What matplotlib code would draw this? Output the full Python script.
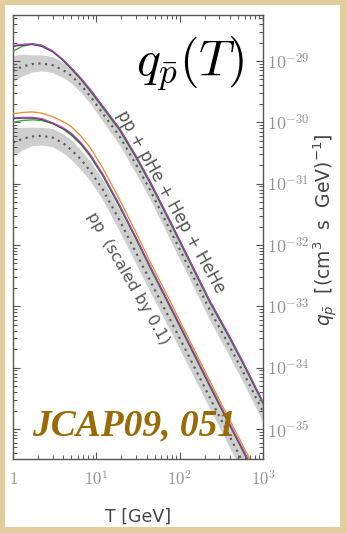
import numpy as np
import matplotlib
matplotlib.use('Agg')
import matplotlib.pyplot as plt
from matplotlib.patches import Rectangle

# kinetic energy grid [GeV]
T = [1, 1.3, 1.7, 2.2, 3, 4, 5, 6.5, 8.4, 12, 19, 30, 44, 77, 133, 232, 400, 577, 1000]

# log10 of source term, pp + pHe + Hep + HeHe
sum_purple = [-28.75, -28.73, -28.72, -28.75, -28.84, -28.98, -29.11, -29.28, -29.46, -29.74, -30.10, -30.55, -30.96, -31.61, -32.26, -32.92, -33.50, -33.91, -34.56]
sum_black = [-28.76, -28.74, -28.73, -28.76, -28.85, -28.99, -29.12, -29.29, -29.47, -29.75, -30.11, -30.56, -30.97, -31.62, -32.27, -32.93, -33.51, -33.92, -34.57]
sum_green = [-28.84, -28.76, -28.72, -28.74, -28.84, -28.99, -29.13, -29.30, -29.49, -29.77, -30.13, -30.58, -30.99, -31.64, -32.29, -32.95, -33.53, -33.94, -34.59]
sum_dotted = [-29.16, -29.09, -29.05, -29.04, -29.07, -29.15, -29.24, -29.39, -29.57, -29.86, -30.23, -30.69, -31.10, -31.76, -32.41, -33.07, -33.66, -34.07, -34.72]
sum_band_hi = [-28.91, -28.89, -28.90, -28.90, -28.93, -29.02, -29.11, -29.26, -29.44, -29.73, -30.09, -30.54, -30.95, -31.60, -32.25, -32.90, -33.49, -33.90, -34.55]
sum_band_lo = [-29.34, -29.24, -29.18, -29.16, -29.19, -29.27, -29.36, -29.51, -29.69, -29.99, -30.37, -30.84, -31.25, -31.92, -32.57, -33.24, -33.83, -34.24, -34.89]

# log10 of source term, pp only (scaled by 0.1)
pp_purple = [-29.93, -29.92, -29.92, -29.94, -30.01, -30.09, -30.18, -30.33, -30.52, -30.85, -31.35, -31.88, -32.34, -32.99, -33.63, -34.29, -34.92, -35.34, -35.98]
pp_black = [-29.94, -29.93, -29.93, -29.95, -30.02, -30.10, -30.19, -30.34, -30.53, -30.86, -31.36, -31.89, -32.35, -33.00, -33.64, -34.30, -34.93, -35.35, -35.99]
pp_green = [-30.00, -29.97, -29.96, -29.97, -30.02, -30.11, -30.21, -30.36, -30.55, -30.88, -31.38, -31.91, -32.37, -33.02, -33.66, -34.32, -34.95, -35.37, -36.01]
pp_orange = [-29.86, -29.84, -29.83, -29.85, -29.91, -29.99, -30.07, -30.22, -30.41, -30.75, -31.26, -31.80, -32.27, -32.92, -33.57, -34.23, -34.86, -35.28, -35.92]
pp_dotted = [-30.33, -30.27, -30.23, -30.22, -30.25, -30.34, -30.45, -30.60, -30.79, -31.10, -31.60, -32.13, -32.58, -33.22, -33.85, -34.50, -35.13, -35.55, -36.18]
pp_band_hi = [-30.08, -30.08, -30.08, -30.08, -30.10, -30.19, -30.29, -30.45, -30.63, -30.94, -31.43, -31.95, -32.40, -33.04, -33.67, -34.32, -34.95, -35.37, -36.00]
pp_band_lo = [-30.55, -30.45, -30.38, -30.37, -30.40, -30.50, -30.61, -30.77, -30.95, -31.27, -31.78, -32.31, -32.76, -33.40, -34.03, -34.68, -35.31, -35.73, -36.36]

xticks = [1, 10, 100, 1000]
xtick_labels = ['$1$', '$10^{1}$', '$10^{2}$', '$10^{3}$']
yticks = [1e-29, 1e-30, 1e-31, 1e-32, 1e-33, 1e-34, 1e-35]
ytick_labels = ['$10^{-29}$', '$10^{-30}$', '$10^{-31}$', '$10^{-32}$', '$10^{-33}$', '$10^{-34}$', '$10^{-35}$']

plt.rcParams['mathtext.fontset'] = 'cm'
plt.rcParams['font.family'] = ['DejaVu Sans']

fig = plt.figure(figsize=(3.47, 5.33), dpi=100)
fig.patch.set_facecolor('#e2cd9e')
# white panel
fig.patches.append(Rectangle((0.014, 0.011), 0.966, 0.98, transform=fig.transFigure,
                             facecolor='white', edgecolor='none', zorder=-5))

ax = fig.add_axes([0.0375, 0.1388, 0.7205, 0.8331])
ax.set_zorder(2)
ax.set_facecolor('white')
ax.set_xscale('log')
ax.set_yscale('log')

def p(v):
    return 10 ** np.array(v)

# bands + dotted central lines
ax.fill_between(T, p(sum_band_lo), p(sum_band_hi), color='#cfcfcf', lw=0, zorder=1)
ax.fill_between(T, p(pp_band_lo), p(pp_band_hi), color='#cfcfcf', lw=0, zorder=1)
ax.plot(T, p(sum_dotted), color='#555555', ls=(0, (1, 2.2)), lw=1.5, zorder=2)
ax.plot(T, p(pp_dotted), color='#555555', ls=(0, (1, 2.2)), lw=1.5, zorder=2)

# model curves
ax.plot(T, p(sum_green), color='#3aa83a', lw=1.0, zorder=3)
ax.plot(T, p(sum_black), color='#333333', lw=1.0, zorder=3)
ax.plot(T, p(sum_purple), color='#a844b8', lw=1.0, zorder=3)
ax.plot(T, p(pp_orange), color='#e8913c', lw=1.0, zorder=3)
ax.plot(T, p(pp_green), color='#3aa83a', lw=1.0, zorder=3)
ax.plot(T, p(pp_black), color='#333333', lw=1.0, zorder=3)
ax.plot(T, p(pp_purple), color='#a844b8', lw=1.0, zorder=3)

ax.set_xlim(1, 1000)
ax.set_ylim(10 ** -35.49, 10 ** -28.25)

# ticks
ax.set_xticks(xticks)
ax.set_xticklabels(xtick_labels)
ax.set_yticks(yticks)
ax.set_yticklabels(ytick_labels)
ax.tick_params(which='both', direction='in', top=True, right=True, colors='#555555',
               labelcolor='#939393', labelsize=12)
ax.tick_params(axis='y', labelleft=False, labelright=True, pad=3, labelsize=13)
ax.tick_params(axis='x', pad=8)
ax.tick_params(which='major', length=5, width=0.8)
ax.tick_params(which='minor', length=2.8, width=0.7)
for s in ax.spines.values():
    s.set_color('#555555')
    s.set_linewidth(1.0)

# annotations
ax.text(0.632, 0.579, 'pp + pHe + Hep + HeHe', transform=ax.transAxes, rotation=-61,
        rotation_mode='anchor', ha='center', va='center', fontsize=12, color='#555555')
ax.text(0.46, 0.408, 'pp  (scaled by 0.1)', transform=ax.transAxes, rotation=-60,
        rotation_mode='anchor', ha='center', va='center', fontsize=11.5, color='#555555')

fig.text(0.703, 0.88, r'$q_{\bar{p}}(T)$', fontsize=36, ha='right', va='center', color='black', zorder=10)

fig.text(0.937, 0.5685, r'$q_{\bar{p}}$  [(cm$^3$  s  GeV)$^{-1}$]', rotation=90,
         ha='center', va='center', fontsize=13.5, color='#444444', math_fontfamily='dejavusans')
fig.text(0.398, 0.030, 'T [GeV]', ha='center', va='center', fontsize=12.5, color='#444444')

fig.text(0.386, 0.2, 'JCAP09, 051', ha='center', va='center', fontsize=27,
         family='Liberation Serif', weight='bold', style='italic', color='#9a6a05', zorder=10)

fig.savefig('out.png', dpi=100, facecolor=fig.get_facecolor())
